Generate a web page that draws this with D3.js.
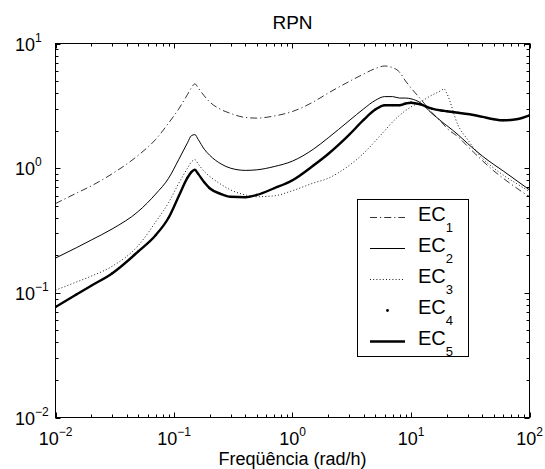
<!DOCTYPE html>
<html>
<head>
<meta charset="utf-8">
<script src="https://cdn.jsdelivr.net/npm/d3@7"></script>
<style>
  body { margin: 0; background: #fff; }
  text { font-family: "Liberation Sans", Arial, sans-serif; fill: #000; }
</style>
</head>
<body>
<svg id="chart" width="545" height="469"></svg>
<script>
// Frequency grid (rad/h) shared by all series
const freq = [0.01, 0.015, 0.02, 0.03, 0.05, 0.07, 0.09, 0.11, 0.13, 0.14, 0.15, 0.16, 0.18, 0.2,
  0.25, 0.3, 0.4, 0.5, 0.7, 1, 1.5, 2, 3, 4, 5, 6, 7, 8, 9, 10, 12, 15, 18, 19, 20, 25, 30, 40, 50, 60, 80, 100];

// Magnitude of each case at the frequencies above
const ec1 = [0.52, 0.63, 0.72, 0.90, 1.27, 1.70, 2.3, 3.0, 3.9, 4.4, 4.75, 4.4, 3.8, 3.4,
  2.95, 2.75, 2.55, 2.52, 2.62, 2.85, 3.4, 4.0, 4.95, 5.7, 6.3, 6.6, 6.4, 5.9, 5.0, 4.4, 3.6, 2.8, 2.35, 2.22, 2.1, 1.78, 1.5, 1.15, 0.95, 0.83, 0.68, 0.59];
const ec2 = [0.19, 0.23, 0.265, 0.325, 0.45, 0.62, 0.83, 1.18, 1.6, 1.82, 1.86, 1.7, 1.42, 1.27,
  1.08, 1.0, 0.96, 0.97, 1.03, 1.14, 1.42, 1.75, 2.4, 3.0, 3.5, 3.75, 3.75, 3.65, 3.65, 3.6, 3.35, 2.75, 2.38, 2.28, 2.2, 1.85, 1.58, 1.25, 1.07, 0.95, 0.78, 0.67];
const ec3 = [0.105, 0.122, 0.136, 0.163, 0.24, 0.37, 0.53, 0.76, 1.0, 1.12, 1.17, 1.08, 0.94, 0.86,
  0.74, 0.67, 0.61, 0.59, 0.6, 0.66, 0.76, 0.83, 1.05, 1.32, 1.65, 2.0, 2.35, 2.65, 2.9, 3.1, 3.4, 3.85, 4.2, 4.33, 4.0, 2.2, 1.7, 1.2, 1.0, 0.88, 0.74, 0.65];
const ec4 = [0.077, 0.097, 0.114, 0.143, 0.215, 0.29, 0.40, 0.60, 0.84, 0.93, 0.97, 0.90, 0.77, 0.69,
  0.62, 0.59, 0.585, 0.61, 0.69, 0.80, 1.05, 1.3, 1.85, 2.45, 2.95, 3.2, 3.2, 3.2, 3.3, 3.35, 3.25, 3.0, 2.9, 2.88, 2.86, 2.78, 2.72, 2.58, 2.47, 2.42, 2.48, 2.65];
const ec5 = [0.077, 0.097, 0.114, 0.143, 0.215, 0.29, 0.40, 0.60, 0.84, 0.93, 0.97, 0.90, 0.77, 0.69,
  0.62, 0.59, 0.585, 0.61, 0.69, 0.80, 1.05, 1.3, 1.85, 2.45, 2.95, 3.2, 3.2, 3.2, 3.3, 3.35, 3.25, 3.0, 2.9, 2.88, 2.86, 2.78, 2.72, 2.58, 2.47, 2.42, 2.48, 2.65];

const seriesNames = ["1", "2", "3", "4", "5"];

// Axis ticks (powers of ten, shown as 10^exp)
const xTicks = [0.01, 0.1, 1, 10, 100];
const xTickExp = ["\u22122", "\u22121", "0", "1", "2"];
const yTicks = [0.01, 0.1, 1, 10];
const yTickExp = ["\u22122", "\u22121", "0", "1"];

const titleText = "RPN";
const xLabelText = "Freqüência (rad/h)";

const svg = d3.select("#chart");
const L = 55.5, R = 529.5, T = 43.5, B = 417.5;

const x = d3.scaleLog().domain([0.01, 100]).range([L, R]);
const y = d3.scaleLog().domain([0.01, 10]).range([B, T]);

// Clip region for the curves
svg.append("defs").append("clipPath").attr("id", "plotclip")
  .append("rect").attr("x", L).attr("y", T).attr("width", R - L).attr("height", B - T);

// Minor/major tick values
function logTicks(lo, hi) {
  const out = [];
  for (let e = Math.log10(lo); e < Math.log10(hi); e++) {
    for (let m = 1; m < 10; m++) out.push({ v: m * Math.pow(10, e), major: m === 1 });
  }
  out.push({ v: hi, major: true });
  return out;
}

const ticksG = svg.append("g").attr("stroke", "#000").attr("stroke-width", 1);
logTicks(0.01, 100).forEach(t => {
  const px = Math.round(x(t.v)) + 0.5;
  const len = t.major ? 5 : 3;
  ticksG.append("line").attr("x1", px).attr("x2", px).attr("y1", B).attr("y2", B - len);
  ticksG.append("line").attr("x1", px).attr("x2", px).attr("y1", T).attr("y2", T + len);
});
logTicks(0.01, 10).forEach(t => {
  const py = Math.round(y(t.v)) + 0.5;
  const len = t.major ? 5 : 3;
  ticksG.append("line").attr("x1", L).attr("x2", L + len).attr("y1", py).attr("y2", py);
  ticksG.append("line").attr("x1", R).attr("x2", R - len).attr("y1", py).attr("y2", py);
});

// Curves
const pts = vals => freq.map((f, i) => ({ f, v: vals[i] }));
const line = d3.line().x(d => x(d.f)).y(d => y(d.v)).curve(d3.curveMonotoneX);
const plot = svg.append("g").attr("clip-path", "url(#plotclip)").attr("fill", "none");

plot.append("path").attr("d", line(pts(ec1)))
  .attr("stroke", "#000").attr("stroke-width", 0.8).attr("stroke-dasharray", "7,3,1.2,3");
plot.append("path").attr("d", line(pts(ec2)))
  .attr("stroke", "#000").attr("stroke-width", 1);
plot.append("path").attr("d", line(pts(ec3)))
  .attr("stroke", "#000").attr("stroke-width", 0.9).attr("stroke-dasharray", "1,2.2");
plot.append("path").attr("d", line(pts(ec5)))
  .attr("stroke", "#000").attr("stroke-width", 2.4);
plot.selectAll("circle.ec4").data(pts(ec4)).join("circle").attr("class", "ec4")
  .attr("cx", d => x(d.f)).attr("cy", d => y(d.v)).attr("r", 1.1).attr("fill", "#000");

// Frame
svg.append("rect").attr("x", L).attr("y", T).attr("width", R - L).attr("height", B - T)
  .attr("fill", "none").attr("stroke", "#000").attr("stroke-width", 1);

// Tick labels
xTicks.forEach((v, i) => {
  const t = svg.append("text").attr("x", x(v)).attr("y", 444.5).attr("text-anchor", "middle")
    .style("font-size", "18px");
  t.append("tspan").text("10");
  t.append("tspan").attr("dy", -9).style("font-size", "12px").text(xTickExp[i]);
});
yTicks.forEach((v, i) => {
  const t = svg.append("text").attr("x", 15).attr("y", y(v) + 7).attr("text-anchor", "start")
    .style("font-size", "18px");
  t.append("tspan").text("10");
  t.append("tspan").attr("dy", -9).style("font-size", "12px").text(yTickExp[i]);
});

// Title and axis label
svg.append("text").attr("x", (L + R) / 2).attr("y", 28.5).attr("text-anchor", "middle")
  .style("font-size", "19px").text(titleText);
svg.append("text").attr("x", (L + R) / 2).attr("y", 465).attr("text-anchor", "middle")
  .style("font-size", "18px").text(xLabelText);

// Legend
const lg = svg.append("g");
lg.append("rect").attr("x", 357.5).attr("y", 199.5).attr("width", 111).attr("height", 157)
  .attr("fill", "#fff").attr("stroke", "#000").attr("stroke-width", 1);
const styles = [
  { w: 0.8, dash: "7,3,1.2,3" },
  { w: 1, dash: null },
  { w: 0.9, dash: "1,2.2" },
  { dot: true },
  { w: 2.4, dash: null }
];
seriesNames.forEach((s, i) => {
  const ly = 217.5 + 31 * i;
  const st = styles[i];
  if (st.dot) {
    lg.append("circle").attr("cx", 387.5).attr("cy", ly).attr("r", 1.4).attr("fill", "#000");
  } else {
    const l = lg.append("line").attr("x1", 370).attr("x2", 405).attr("y1", ly).attr("y2", ly)
      .attr("stroke", "#000").attr("stroke-width", st.w);
    if (st.dash) l.attr("stroke-dasharray", st.dash);
  }
  const t = lg.append("text").attr("x", 418).attr("y", ly + 3).style("font-size", "20px");
  t.append("tspan").text("EC");
  t.append("tspan").attr("dy", 11).style("font-size", "13px").text(s);
});
</script>
</body>
</html>
